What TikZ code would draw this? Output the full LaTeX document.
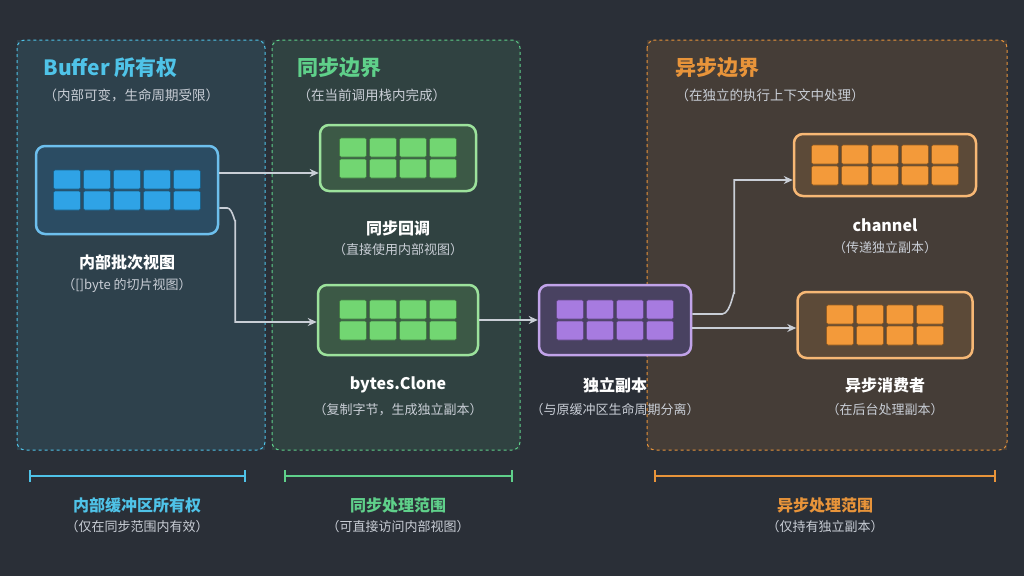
\documentclass[tikz,border=0pt]{standalone}
\usepackage{fontspec}
\setmainfont{Noto Sans CJK SC}
\usetikzlibrary{positioning, arrows.meta}
\definecolor{bgdark}{HTML}{2A2F37}
\definecolor{cyanline}{HTML}{4FC3E8}
\definecolor{greenline}{HTML}{5FD08A}
\definecolor{orangeline}{HTML}{E8943A}
\definecolor{subgray}{HTML}{C9CED6}
\definecolor{blueblk}{HTML}{2FA3E6}
\definecolor{greenblk}{HTML}{72D672}
\definecolor{purpleblk}{HTML}{A77BE0}
\definecolor{orangeblk}{HTML}{F39A3A}
\tikzset{
  panel/.style={draw=#1, dashed, line width=1pt, rounded corners=8pt},
  title/.style={anchor=west, font=\bfseries\fontsize{21}{23}\selectfont},
  subtitle/.style={anchor=west, text=subgray, font=\fontsize{13.5}{15}\selectfont},
  tray/.style={draw=#1!70!white, line width=2.5pt, rounded corners=9pt, fill=#1!25!bgdark},
  label/.style={text=white, font=\bfseries\fontsize{16}{18}\selectfont},
  note/.style={text=subgray, font=\fontsize{13}{15}\selectfont},
  blk/.style={fill=#1, draw=#1!60!black, line width=0.6pt, rounded corners=1.5pt},
  flow/.style={-{Stealth[length=9pt,width=8pt]}, draw=subgray, line width=1.6pt},
  span/.style={draw=#1, line width=1.2pt}
}
% tray: name / center x / center y / width / height / columns / color
\newcommand{\trayat}[7]{%
  \node[tray=#7, minimum width=#4pt, minimum height=#5pt] (#1) at (#2,#3) {};
  \foreach \c in {1,...,#6} {
    \foreach \r in {0,1} {
      \fill[blk=#7] ({#2-#6*15+(\c-1)*30+1.5},{#3-20+\r*21}) rectangle ++(27,19);
    }
  }
}
\begin{document}
\begin{tikzpicture}[x=1pt, y=-1pt]
  \fill[bgdark] (0,0) rectangle (1024,576);

  % Panels
  \fill[cyanline!12!bgdark] (17,40) rectangle (265,450);
  \draw[panel=cyanline] (17,40) rectangle (265,450);
  \fill[greenline!12!bgdark] (272,40) rectangle (520,450);
  \draw[panel=greenline] (272,40) rectangle (520,450);
  \fill[orangeline!14!bgdark] (647,40) rectangle (1007,450);
  \draw[panel=orangeline] (647,40) rectangle (1007,450);

  \node[title, text=cyanline] (t1) at (40,68) {Buffer 所有权};
  \node[subtitle] (s1) at (40,95) {（内部可变，生命周期受限）};
  \node[title, text=greenline] (t2) at (294,68) {同步边界};
  \node[subtitle] (s2) at (294,95) {（在当前调用栈内完成）};
  \node[title, text=orangeline] (t3) at (672,68) {异步边界};
  \node[subtitle] (s3) at (672,95) {（在独立的执行上下文中处理）};

  % Trays
  \trayat{buf}{127}{190}{182}{88}{5}{blueblk}
  \trayat{cb}{398}{158}{156}{66}{4}{greenblk}
  \trayat{clone}{398}{320}{160}{70}{4}{greenblk}
  \trayat{copy}{615}{320}{152}{70}{4}{purpleblk}
  \trayat{chan}{885}{165}{182}{62}{5}{orangeblk}
  \trayat{cons}{885}{325}{175}{66}{4}{orangeblk}

  % Labels
  \node[label] (lbuf) at (127,262) {内部批次视图};
  \node[note] (nbuf) at (127,285) {（[]byte 的切片视图）};
  \node[label] (lcb) at (398,228) {同步回调};
  \node[note] (ncb) at (398,250) {（直接使用内部视图）};
  \node[label] (lclone) at (398,385) {bytes.Clone};
  \node[note] (nclone) at (398,410) {（复制字节，生成独立副本）};
  \node[label] (lcopy) at (615,385) {独立副本};
  \node[note] (ncopy) at (615,410) {（与原缓冲区生命周期分离）};
  \node[label] (lchan) at (885,225) {channel};
  \node[note] (nchan) at (885,248) {（传递独立副本）};
  \node[label] (lcons) at (885,385) {异步消费者};
  \node[note] (ncons) at (885,410) {（在后台处理副本）};

  % Arrows
  \draw[flow] ([yshift=17pt]buf.east) -- ([yshift=-15pt]cb.west);
  \draw[flow] ([yshift=-18pt]buf.east) -- ++(8,0) to[out=0,in=-90] ++(8,12)
    |- ([yshift=-2pt]clone.west);
  \draw[flow] (clone.east) -- (copy.west);
  \draw[flow] ([yshift=6pt]copy.east) -- ++(30,0) to[out=0,in=90] ++(12,-20)
    |- ([yshift=-15pt]chan.west);
  \draw[flow] ([yshift=-8pt]copy.east) -- ([yshift=-3pt]cons.west);

  % Scope brackets
  \draw[span=cyanline] (30,476) -- (245,476);
  \draw[span=cyanline] (30,470) -- (30,482) (245,470) -- (245,482);
  \node[label, text=cyanline] (b1) at (137,505) {内部缓冲区所有权};
  \node[note] (c1) at (137,527) {（仅在同步范围内有效）};
  \draw[span=greenline] (285,476) -- (512,476);
  \draw[span=greenline] (285,470) -- (285,482) (512,470) -- (512,482);
  \node[label, text=greenline] (b2) at (398,505) {同步处理范围};
  \node[note] (c2) at (398,527) {（可直接访问内部视图）};
  \draw[span=orangeline] (655,476) -- (995,476);
  \draw[span=orangeline] (655,470) -- (655,482) (995,470) -- (995,482);
  \node[label, text=orangeline] (b3) at (825,505) {异步处理范围};
  \node[note] (c3) at (825,527) {（仅持有独立副本）};
\end{tikzpicture}
\end{document}
